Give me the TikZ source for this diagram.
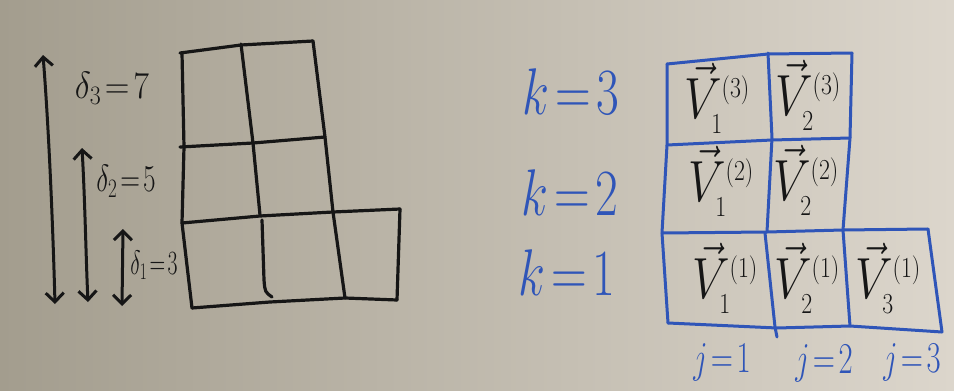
\RequirePackage{fix-cm}
\documentclass[tikz,border=0pt]{standalone}
\usepackage{graphicx}
\usetikzlibrary{arrows.meta}
\definecolor{bgL}{HTML}{A39D8E}
\definecolor{bgR}{HTML}{DCD6CC}
\definecolor{ink}{HTML}{161616}
\definecolor{bink}{HTML}{2F55B8}
\newcommand{\vv}[2]{\scalebox{0.82}[1]{$\vec{V}_{\scriptscriptstyle #1}^{\scriptscriptstyle (#2)}$}}
\tikzset{
  bgrid/.style={draw=ink, line width=3.2pt, line cap=round, line join=round},
  ugrid/.style={draw=bink, line width=3pt, line cap=round, line join=round},
  darrow/.style={draw=ink, line width=3pt, line cap=round,
    {Straight Barb[length=9pt,width=18pt,line width=3pt]}-{Straight Barb[length=9pt,width=18pt,line width=3pt]}},
  dlabel/.style={text=ink, inner sep=0pt, font=\fontsize{38}{42}\selectfont},
  klabel/.style={text=bink, inner sep=0pt, font=\fontsize{66}{70}\selectfont},
  jlabel/.style={text=bink, inner sep=0pt, font=\fontsize{44}{48}\selectfont},
  vlabel/.style={text=ink, inner sep=0pt, font=\fontsize{58}{62}\selectfont},
}
\begin{document}
\begin{tikzpicture}[x=1pt,y=-1pt]
\useasboundingbox (0,0) rectangle (954,391);
\fill[left color=bgL, right color=bgR] (0,0) rectangle (954,391);

% ---- left black grid ----
\draw[bgrid] (180,53) -- (241,45) -- (313,41);
\draw[bgrid] (182,53) -- (184,147) -- (182,223) -- (192,308);
\draw[bgrid] (192,308) -- (270,302) -- (345,298) -- (397,300);
\draw[bgrid] (400,209) -- (397,300);
\draw[bgrid] (180,147) -- (253,143) -- (325,137);
\draw[bgrid] (182,223) -- (260,216) -- (333,212) -- (400,209);
\draw[bgrid] (241,44) -- (253,143) -- (260,215);
\draw[bgrid] (262,220) -- (264,280) .. controls (265,292) .. (272,297);
\draw[bgrid] (313,41) -- (325,137) -- (333,212) -- (345,298);

% ---- double arrows ----
\coordinate (a1t) at (43,55);
\coordinate (a1b) at (55,304);
\coordinate (a2t) at (82,148);
\coordinate (a2b) at (88,302);
\coordinate (a3t) at (123,229);
\coordinate (a3b) at (122,306);
\draw[darrow] (a1t) .. controls (49,130) and (53,230) .. (a1b);
\draw[darrow] (a2t) .. controls (85,200) and (86,260) .. (a2b);
\draw[darrow] (a3t) -- (a3b);

\node[dlabel] (d3) at (112,88) {\scalebox{0.9}[1]{$\delta_3\!=\!7$}};
\node[dlabel] (d2) at (126,181) {\scalebox{0.72}[1]{$\delta_2\!=\!5$}};
\node[dlabel, font=\fontsize{34}{38}\selectfont] (d1) at (154,265) {\scalebox{0.64}[1]{$\delta_1\!=\!3$}};

% ---- right blue grid ----
\draw[ugrid] (667,64) -- (768,54) -- (852,53);
\draw[ugrid] (667,64) -- (667,145) -- (662,233) -- (668,323);
\draw[ugrid] (768,53) -- (772,138) -- (767,232);
\draw[ugrid] (765,233) -- (775,327) -- (777,337);
\draw[ugrid] (852,53) -- (850,138) -- (843,230) -- (850,326);
\draw[ugrid] (667,145) -- (772,140) -- (850,138);
\draw[ugrid] (662,233) -- (767,232) -- (843,230) -- (928,229);
\draw[ugrid] (928,229) -- (942,332);
\draw[ugrid] (668,323) -- (777,328) -- (850,326) -- (942,332);

\node[klabel] (k3) at (571,92) {\scalebox{0.75}[1]{$k\!=\!3$}};
\node[klabel] (k2) at (570,193) {\scalebox{0.75}[1]{$k\!=\!2$}};
\node[klabel] (k1) at (567,273) {\scalebox{0.75}[1]{$k\!=\!1$}};

\node[jlabel] (j1) at (722,362) {\scalebox{0.7}[1]{$j\!=\!1$}};
\node[jlabel] (j2) at (824,363) {\scalebox{0.7}[1]{$j\!=\!2$}};
\node[jlabel] (j3) at (912,362) {\scalebox{0.7}[1]{$j\!=\!3$}};

\node[vlabel] (v13) at (717,98) {\vv{1}{3}};
\node[vlabel] (v23) at (808,95) {\vv{2}{3}};
\node[vlabel] (v12) at (721,181) {\vv{1}{2}};
\node[vlabel] (v22) at (806,180) {\vv{2}{2}};
\node[vlabel] (v11) at (725,278) {\vv{1}{1}};
\node[vlabel] (v21) at (807,278) {\vv{2}{1}};
\node[vlabel] (v31) at (888,278) {\vv{3}{1}};
\end{tikzpicture}
\end{document}
